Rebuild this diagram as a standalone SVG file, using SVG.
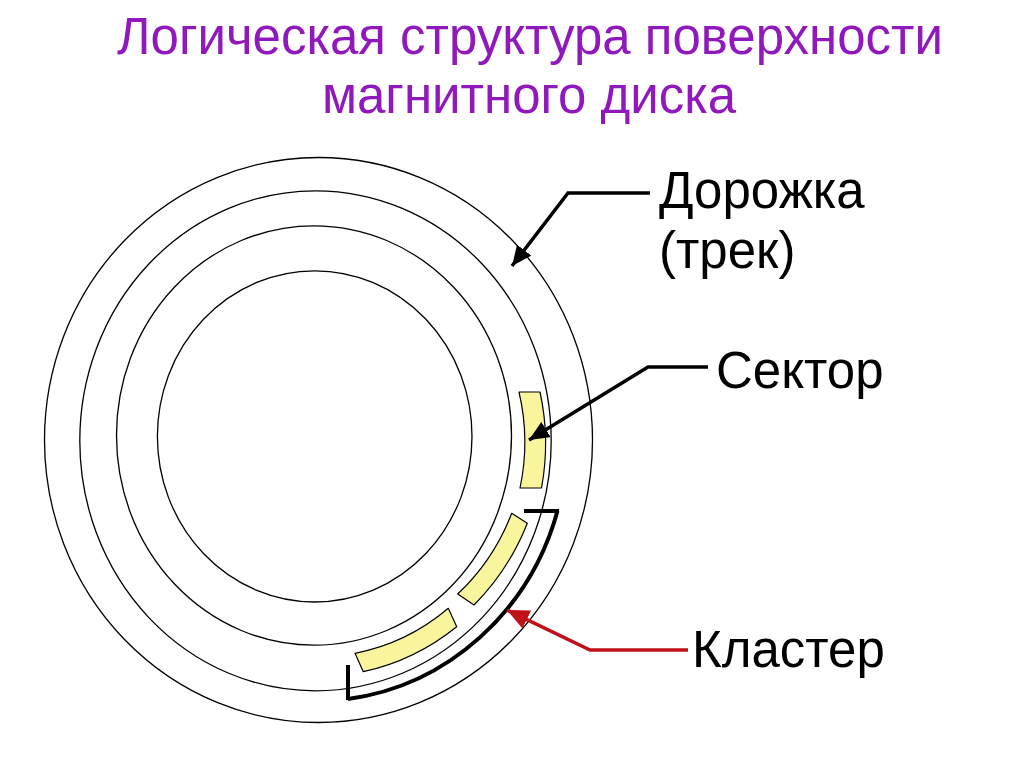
<svg xmlns="http://www.w3.org/2000/svg" width="1024" height="768" viewBox="0 0 1024 768">
<style>
.title{font-family:"Liberation Sans",Arial,sans-serif;font-size:51px;fill:#9018BC;text-anchor:middle}
.lbl{font-family:"Liberation Sans",Arial,sans-serif;font-size:51px;fill:#000}
.ring{fill:none;stroke:#000;stroke-width:1.3}
.sec{fill:#F8F59C;stroke:#000;stroke-width:1.2;stroke-linejoin:round}
.conn{fill:none;stroke:#000;stroke-width:3.5}
.red{fill:none;stroke:#C01018;stroke-width:3.5}
</style>
<defs>
<marker id="ah" markerUnits="userSpaceOnUse" markerWidth="22" markerHeight="18" refX="20" refY="9" orient="auto"><path d="M0,0 L20,9 L0,18 Z" fill="#000"/></marker>
<marker id="ahr" markerUnits="userSpaceOnUse" markerWidth="24" markerHeight="20" refX="22" refY="10" orient="auto"><path d="M0,0 L22,10 L0,20 Z" fill="#C01018"/></marker>
</defs>
<rect width="1024" height="768" fill="#fff"/>
<g id="title">
<text class="title" x="530" y="54">Логическая структура поверхности</text>
<text class="title" x="529" y="113">магнитного диска</text>
</g>
<g id="disk">
<ellipse class="ring" cx="318.5" cy="440" rx="274" ry="282.5"/>
<ellipse class="ring" cx="315.5" cy="440.8" rx="235.7" ry="250"/>
<ellipse class="ring" cx="314" cy="435.5" rx="197.5" ry="209.7"/>
<ellipse class="ring" cx="314.7" cy="436.4" rx="157.3" ry="165.6"/>
</g>
<g id="sector">
<path class="sec" d="M540 392 A228 235 0 0 1 541.5 488 L520 488 A206 213 0 0 0 519 392 Z"/>
</g>
<g id="cluster">
<path class="sec" d="M527.3 523.3 A230 240 0 0 1 474 605 L457.7 594 A208 218 0 0 0 511.7 513.3 Z"/>
<path class="sec" d="M456.7 626.7 A230 240 0 0 1 363.3 671.7 L355 653.3 A208 218 0 0 0 448.3 608.3 Z"/>
<path fill="none" stroke="#000" stroke-width="4" d="M524 511 H559 M557.5 511 A252 263 0 0 1 348 699 M348 665 V700"/>
</g>
<g id="labels">
<text class="lbl" x="659" y="208">Дорожка</text>
<text class="lbl" x="659" y="268">(трек)</text>
<text class="lbl" x="716" y="388">Сектор</text>
<text class="lbl" x="692" y="667">Кластер</text>
</g>
<g id="connectors">
<path class="conn" d="M650 193 H568 L512 266" marker-end="url(#ah)"/>
<path class="conn" d="M708 367 H648 L529 440" marker-end="url(#ah)"/>
<path class="red" d="M688 650 H590 L507 610" marker-end="url(#ahr)"/>
</g>
</svg>
